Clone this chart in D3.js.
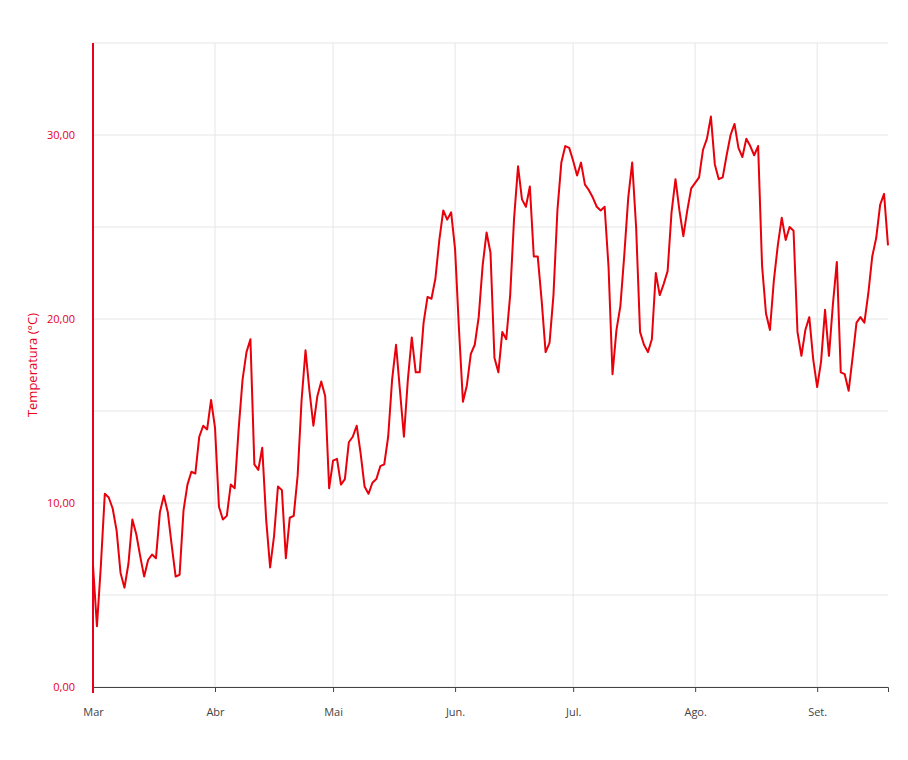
<!DOCTYPE html>
<html><head><meta charset="utf-8">
<script src="https://cdn.jsdelivr.net/npm/d3@7"></script>
<style>body{margin:0;background:#fff;font-family:"Open Sans",sans-serif}</style>
</head><body><svg id="c" width="908" height="760"></svg>
<script>
const startDate = "2023-03-01";
const temps = [6.6,3.3,6.6,10.5,10.3,9.7,8.5,6.2,5.4,6.7,9.1,8.3,7.1,6.0,6.9,7.2,7.0,9.5,10.4,9.5,7.7,6.0,6.1,9.6,11.0,11.7,11.6,13.6,14.2,14.0,
15.6,14.1,9.8,9.1,9.3,11.0,10.8,14.0,16.7,18.2,18.9,12.1,11.8,13.0,9.1,6.5,8.2,10.9,10.7,7.0,9.2,9.3,11.5,15.6,18.3,16.1,14.2,15.8,16.6,15.8,
10.8,12.3,12.4,11.0,11.3,13.3,13.6,14.2,12.7,10.9,10.5,11.1,11.3,12.0,12.1,13.6,16.7,18.6,16.1,13.6,16.7,19.0,17.1,17.1,19.8,21.2,21.1,22.2,24.3,25.9,
25.4,25.8,23.8,19.4,15.5,16.4,18.1,18.6,20.1,22.9,24.7,23.6,17.9,17.1,19.3,18.9,21.3,25.5,28.3,26.5,26.1,27.2,23.4,23.4,21.0,18.2,18.7,21.3,25.9,28.5,
29.4,29.3,28.6,27.8,28.5,27.3,27.0,26.6,26.1,25.9,26.1,22.8,17.0,19.4,20.7,23.5,26.6,28.5,25.0,19.3,18.6,18.2,18.9,22.5,21.3,21.9,22.6,25.8,27.6,25.9,
24.5,25.9,27.1,27.4,27.7,29.2,29.8,31.0,28.4,27.6,27.7,28.9,30.0,30.6,29.3,28.8,29.8,29.4,28.9,29.4,22.9,20.3,19.4,22.1,24.0,25.5,24.3,25.0,24.8,19.3,
18.0,19.4,20.1,17.8,16.3,17.7,20.5,18.0,20.8,23.1,17.1,17.0,16.1,17.9,19.8,20.1,19.8,21.4,23.4,24.4,26.2,26.8,24.0];
const monthLabels = ["Mar","Abr","Mai","Jun.","Jul.","Ago.","Set."];
const yTicks = [0,10,20,30];
const yGrid = [0,5,10,15,20,25,30,35];

const svg = d3.select("#c");
const m = {l:93,r:20,t:43,b:73};
const W = 908, H = 760;
const t0 = d3.timeParse("%Y-%m-%d")(startDate);
const data = temps.map((v,i)=>({d:d3.timeDay.offset(t0,i),v}));
const x = d3.scaleTime().domain([t0, data[data.length-1].d]).range([m.l, W-m.r]);
const y = d3.scaleLinear().domain([0,35]).range([H-m.b, m.t]);
const months = d3.timeMonth.range(t0, data[data.length-1].d);
const fmt = v => d3.format(".2f")(v).replace(".", ",");

const g = svg.append("g");
g.selectAll(".hg").data(yGrid).join("line").attr("x1",m.l).attr("x2",W-m.r)
 .attr("y1",d=>y(d)).attr("y2",d=>y(d)).attr("stroke","#e6e6e6");
g.selectAll(".vg").data(months.slice(1)).join("line").attr("y1",m.t).attr("y2",H-m.b)
 .attr("x1",d=>x(d)).attr("x2",d=>x(d)).attr("stroke","#e6e6e6");

const xa = svg.append("g").attr("transform",`translate(0,${H-m.b})`)
 .call(d3.axisBottom(x).tickValues(months).tickSize(5).tickFormat((d,i)=>monthLabels[i]));
xa.select(".domain").attr("stroke","#444");
xa.selectAll(".tick line").attr("stroke","#444");
xa.selectAll("text").attr("fill","#444").attr("font-size",11).attr("font-family","Open Sans").attr("dy","1.9em");

const ya = svg.append("g").attr("transform",`translate(${m.l},0)`)
 .call(d3.axisLeft(y).tickValues(yTicks).tickSize(0).tickPadding(18).tickFormat(fmt));
ya.select(".domain").remove();
ya.selectAll("text").attr("fill","#e8001c").attr("font-size",11).attr("font-family","Open Sans");
svg.append("line").attr("x1",m.l).attr("x2",m.l).attr("y1",m.t).attr("y2",H-m.b+6)
 .attr("stroke","#e8001c").attr("stroke-width",2);

svg.append("text").attr("transform",`translate(37,${(m.t+H-m.b)/2}) rotate(-90)`)
 .attr("text-anchor","middle").attr("fill","#e8001c").attr("font-size",13).text("Temperatura (°C)");

svg.append("path").datum(data).attr("fill","none").attr("stroke","#e8000b").attr("stroke-width",2)
 .attr("stroke-linejoin","round")
 .attr("d",d3.line().x(d=>x(d.d)).y(d=>y(d.v)));
</script></body></html>
